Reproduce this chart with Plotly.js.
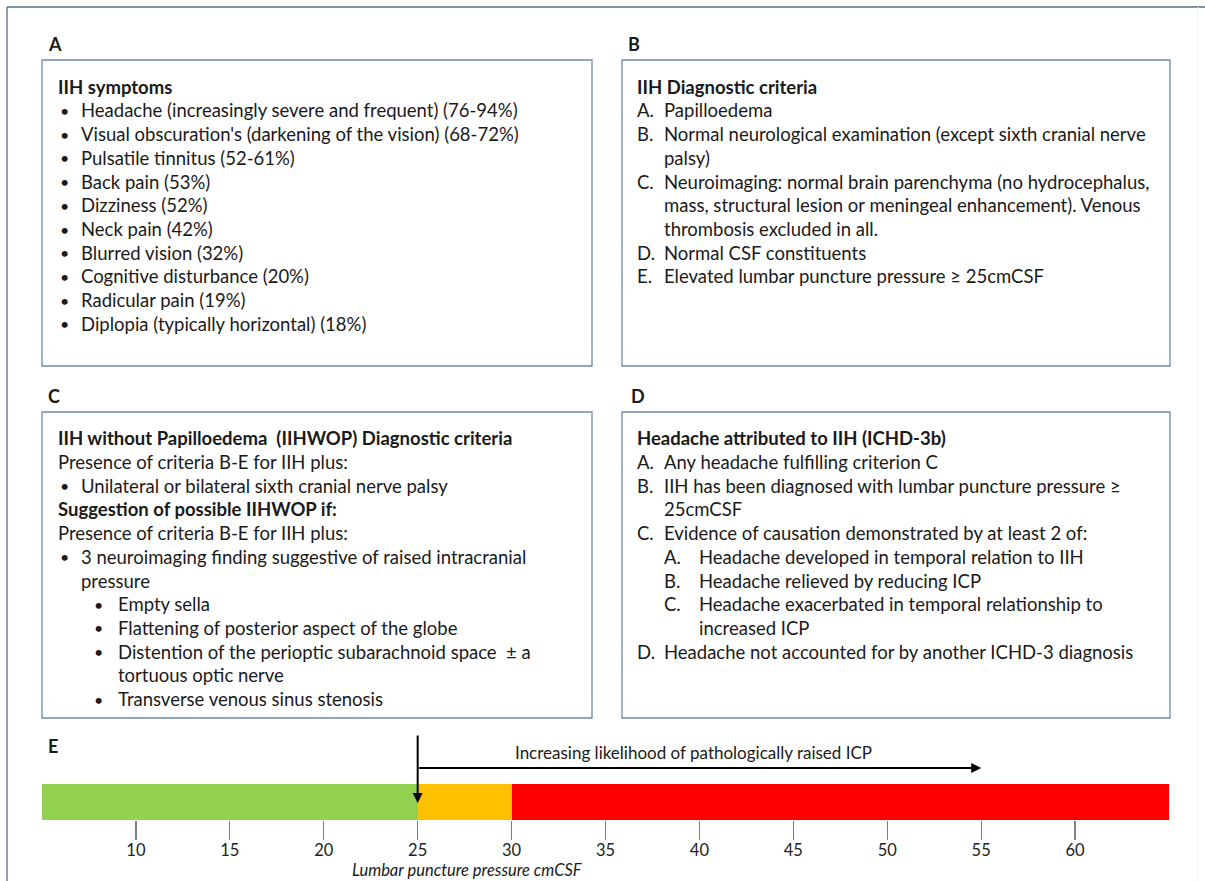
<!DOCTYPE html>
<html><head><meta charset="utf-8">
<script src="https://cdn.plot.ly/plotly-3.0.1.min.js"></script>
<style>body{margin:0;background:#fff}#chart{width:1205px;height:881px}</style>
</head><body><div id="chart"></div><script>
// ---------- content ----------
const panelLetters = ["A", "B", "C", "D", "E"];

const symptomsTitle = "IIH symptoms";
const symptoms = [
  "Headache (increasingly severe and frequent) (76-94%)",
  "Visual obscuration's (darkening of the vision) (68-72%)",
  "Pulsatile tinnitus (52-61%)",
  "Back pain (53%)",
  "Dizziness (52%)",
  "Neck pain (42%)",
  "Blurred vision (32%)",
  "Cognitive disturbance (20%)",
  "Radicular pain (19%)",
  "Diplopia (typically horizontal) (18%)"
];

const diagTitle = "IIH Diagnostic criteria";
const diagMarkers = ["A.", "B.", "", "C.", "", "", "D.", "E."];
const diagText = [
  "Papilloedema",
  "Normal neurological examination (except sixth cranial nerve",
  "palsy)",
  "Neuroimaging: normal brain parenchyma (no hydrocephalus,",
  "mass, structural lesion or meningeal enhancement). Venous",
  "thrombosis excluded in all.",
  "Normal CSF constituents",
  "Elevated lumbar puncture pressure \u2265 25cmCSF"
];

const wopTitle = "IIH without Papilloedema  (IIHWOP) Diagnostic criteria";
const wopMarkers = ["", "\u2022", "", "", "\u2022", "", "\u2022", "\u2022", "\u2022", "", "\u2022"];
const wopLevel   = [0, 1, 0, 0, 1, 1, 2, 2, 2, 2, 2];
const wopBold    = [false, false, true, false, false, false, false, false, false, false, false];
const wopText = [
  "Presence of criteria B-E for IIH plus:",
  "Unilateral or bilateral sixth cranial nerve palsy",
  "Suggestion of possible IIHWOP if:",
  "Presence of criteria B-E for IIH plus:",
  "3 neuroimaging finding suggestive of raised intracranial",
  "pressure",
  "Empty sella",
  "Flattening of posterior aspect of the globe",
  "Distention of the perioptic subarachnoid space  \u00b1 a",
  "tortuous optic nerve",
  "Transverse venous sinus stenosis"
];

const ichdTitle = "Headache attributed to IIH (ICHD-3b)";
const ichdMarkers = ["A.", "B.", "", "C.", "A.", "B.", "C.", "", "D."];
const ichdLevel   = [1, 1, 1, 1, 2, 2, 2, 2, 1];
const ichdText = [
  "Any headache fulfilling criterion C",
  "IIH has been diagnosed with lumbar puncture pressure \u2265",
  "25cmCSF",
  "Evidence of causation demonstrated by at least 2 of:",
  "Headache developed in temporal relation to IIH",
  "Headache relieved by reducing ICP",
  "Headache exacerbated in temporal relationship to",
  "increased ICP",
  "Headache not accounted for by another ICHD-3 diagnosis"
];

// pressure scale (cmCSF)
const bandNames = ["Normal", "Borderline", "Raised"];
const bandStart = [5, 25, 30];
const bandEnd   = [25, 30, 65];
const pressureTicks = [10, 15, 20, 25, 30, 35, 40, 45, 50, 55, 60];
const thresholdPressure = 25;
const arrowEndPressure = 55;
const arrowLabel = "Increasing likelihood of pathologically raised ICP";
const axisLabel = "Lumbar puncture pressure cmCSF";

// ---------- styling / layout ----------
const W = 1205, H = 881;
const X = p => p / W;
const Y = p => 1 - p / H;
const FONT = "Lato, 'Open Sans', sans-serif";
const FS = 18.5;
const TXT = "#1a1a1a";
const LH = 23.7;
const bandColors = ["#92D050", "#FFC000", "#FF0000"];

const ann = [];
function txt(x, y, s, opts) {
  opts = opts || {};
  ann.push({
    xref: "paper", yref: "paper", x: X(x), y: Y(y),
    xanchor: opts.anchor || "left", yanchor: opts.yanchor || "middle",
    text: opts.bold ? "<b>" + s + "</b>" : (opts.italic ? "<i>" + s + "</i>" : s),
    showarrow: false, borderpad: opts.pad === undefined ? 1 : opts.pad,
    font: {family: FONT, size: opts.size || FS, color: TXT}
  });
}

// panel letters
const letterPos = [[46, 44], [626, 44], [46, 396], [629, 396], [46, 746]];
panelLetters.forEach((l, i) => txt(letterPos[i][0], letterPos[i][1], l, {bold: true, size: 18}));

// Panel A
txt(56, 87, symptomsTitle, {bold: true});
symptoms.forEach((s, i) => {
  const y = 110.5 + i * LH;
  txt(58, y, "\u2022", {size: 16});
  txt(79, y, s);
});

// Panel B
txt(635, 87, diagTitle, {bold: true});
diagText.forEach((s, i) => {
  const y = 110.5 + i * LH;
  if (diagMarkers[i]) txt(635, y, diagMarkers[i]);
  txt(662, y, s);
});

// Panel C
txt(56, 438, wopTitle, {bold: true});
const bulletX = [0, 58, 92], textX = [56, 79, 116];
wopText.forEach((s, i) => {
  const y = 462 + i * LH;
  const lv = wopLevel[i];
  if (wopMarkers[i]) txt(bulletX[lv], y, wopMarkers[i], {size: 16});
  txt(textX[lv], y, s, {bold: wopBold[i]});
});

// Panel D
txt(635, 438, ichdTitle, {bold: true});
const mX = [0, 635, 662], tX = [0, 662, 697];
ichdText.forEach((s, i) => {
  const y = 462 + i * LH;
  const lv = ichdLevel[i];
  if (ichdMarkers[i]) txt(mX[lv], y, ichdMarkers[i]);
  txt(tX[lv], y, s);
});

// Panel E texts
txt(694, 752, arrowLabel, {anchor: "center", size: 17});
txt(467, 881, axisLabel, {italic: true, anchor: "center", yanchor: "bottom", size: 16.5, pad: 0});

// arrows
ann.push({
  xref: "x", yref: "paper", x: thresholdPressure, y: Y(803),
  ax: 0, ay: -69, showarrow: true, arrowhead: 2, arrowsize: 1, arrowwidth: 2,
  arrowcolor: "#000", standoff: 0, startstandoff: 0, text: ""
});
ann.push({
  xref: "x", yref: "paper", x: arrowEndPressure, y: Y(768),
  axref: "x", ax: thresholdPressure, ayref: "pixel", ay: 0,
  showarrow: true, arrowhead: 2, arrowsize: 1, arrowwidth: 2,
  arrowcolor: "#000", standoff: 0, startstandoff: 0, text: ""
});

// shapes: panel boxes and outer frame
const boxC = "#7189a8";
const shapes = [];
[[42, 60, 592, 366], [622, 60, 1170, 366], [42, 412, 592, 718], [622, 412, 1170, 718]].forEach(b => {
  shapes.push({type: "rect", xref: "paper", yref: "paper",
    x0: X(b[0]), x1: X(b[2]), y0: Y(b[3]), y1: Y(b[1]),
    line: {color: boxC, width: 1.3}});
});
shapes.push({type: "line", xref: "paper", yref: "paper", x0: X(7), x1: X(1205), y0: Y(7), y1: Y(7), line: {color: "#56718d", width: 1.3}});
shapes.push({type: "line", xref: "paper", yref: "paper", x0: X(7), x1: X(7), y0: Y(7), y1: Y(881), line: {color: "#56718d", width: 1.3}});
shapes.push({type: "line", xref: "paper", yref: "paper", x0: X(1198), x1: X(1198), y0: Y(7), y1: Y(881), line: {color: "#eef1f5", width: 1}});

const traces = [{
  type: "bar", orientation: "h",
  y: bandNames.map(() => 0),
  base: bandStart,
  x: bandEnd.map((e, i) => e - bandStart[i]),
  text: bandNames, textposition: "none", hoverinfo: "text",
  width: 1,
  marker: {color: bandColors, line: {width: 0}},
  xaxis: "x", yaxis: "y", showlegend: false
}];

const layout = {
  width: W, height: H,
  margin: {l: 0, r: 0, t: 0, b: 0},
  paper_bgcolor: "#fff", plot_bgcolor: "rgba(0,0,0,0)",
  showlegend: false,
  bargap: 0,
  xaxis: {
    domain: [X(42), X(1169)], range: [5, 65], anchor: "y",
    tickvals: pressureTicks, ticks: "outside", ticklen: 19, tickwidth: 1.2, tickcolor: "#808080",
    ticklabelstandoff: -4,
    showgrid: false, zeroline: false, showline: false,
    tickfont: {family: FONT, size: 16.5, color: "#222"}
  },
  yaxis: {
    domain: [Y(820), Y(784)], range: [-0.5, 0.5], visible: false, fixedrange: true
  },
  shapes: shapes,
  annotations: ann
};

Plotly.newPlot("chart", traces, layout, {displayModeBar: false, staticPlot: true});
</script></body></html>
